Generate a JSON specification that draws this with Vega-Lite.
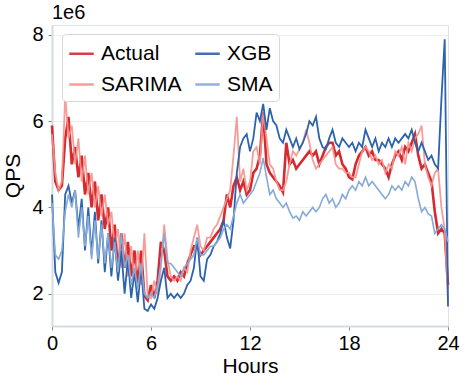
{
  "$schema": "https://vega.github.io/schema/vega-lite/v6.json",
  "width": 396,
  "height": 301,
  "autosize": {"type": "none"},
  "padding": {"left": 52, "top": 25, "right": 20, "bottom": 60},
  "background": "white",
  "config": {
    "font": "Liberation Sans",
    "view": {"stroke": "#dde2ea", "strokeWidth": 1},
    "axis": {
      "labelFont": "Liberation Sans",
      "titleFont": "Liberation Sans",
      "labelFontSize": 20,
      "titleFontSize": 21,
      "titleFontWeight": "normal",
      "labelColor": "black",
      "titleColor": "black",
      "domainColor": "#d5dbe4",
      "domainWidth": 2,
      "tickColor": "#888",
      "tickSize": 4,
      "gridColor": "#eeeeee",
      "gridWidth": 1
    }
  },
  "title": {
    "text": "1e6",
    "anchor": "start",
    "frame": "group",
    "fontSize": 20,
    "fontWeight": "normal",
    "font": "Liberation Sans",
    "color": "black",
    "offset": 2
  },
  "data": {
    "values": [
      {"h":0.0,"Actual":5.9,"SARIMA":5.7,"XGB":4.3,"SMA":4.1},
      {"h":0.2,"Actual":4.6,"SARIMA":4.8,"XGB":2.5,"SMA":2.9},
      {"h":0.4,"Actual":4.4,"SARIMA":4.4,"XGB":2.25,"SMA":2.8},
      {"h":0.6,"Actual":4.5,"SARIMA":4.6,"XGB":2.5,"SMA":3.0},
      {"h":0.8,"Actual":5.6,"SARIMA":6.6,"XGB":4.3,"SMA":3.9},
      {"h":1.0,"Actual":6.1,"SARIMA":5.6,"XGB":4.5,"SMA":4.3},
      {"h":1.2,"Actual":5.0,"SARIMA":5.9,"XGB":4.1,"SMA":4.0},
      {"h":1.4,"Actual":5.4,"SARIMA":5.0,"XGB":4.4,"SMA":4.4},
      {"h":1.6,"Actual":4.7,"SARIMA":5.6,"XGB":3.5,"SMA":3.3},
      {"h":1.8,"Actual":5.2,"SARIMA":4.6,"XGB":4.2,"SMA":4.0},
      {"h":2.0,"Actual":4.3,"SARIMA":5.2,"XGB":3.0,"SMA":3.1},
      {"h":2.2,"Actual":4.8,"SARIMA":4.3,"XGB":4.0,"SMA":3.8},
      {"h":2.4,"Actual":4.0,"SARIMA":4.8,"XGB":2.9,"SMA":2.8},
      {"h":2.6,"Actual":4.6,"SARIMA":4.0,"XGB":3.9,"SMA":3.7},
      {"h":2.8,"Actual":3.7,"SARIMA":4.5,"XGB":2.7,"SMA":2.8},
      {"h":3.0,"Actual":4.3,"SARIMA":3.8,"XGB":3.7,"SMA":3.6},
      {"h":3.2,"Actual":3.5,"SARIMA":4.3,"XGB":2.5,"SMA":2.7},
      {"h":3.4,"Actual":4.0,"SARIMA":3.6,"XGB":3.4,"SMA":3.4},
      {"h":3.6,"Actual":3.0,"SARIMA":3.9,"XGB":2.4,"SMA":2.6},
      {"h":3.8,"Actual":3.6,"SARIMA":3.1,"XGB":3.3,"SMA":3.2},
      {"h":4.0,"Actual":2.5,"SARIMA":3.5,"XGB":2.3,"SMA":2.5},
      {"h":4.2,"Actual":3.4,"SARIMA":2.6,"XGB":3.0,"SMA":3.4},
      {"h":4.4,"Actual":2.6,"SARIMA":3.4,"XGB":2.0,"SMA":2.6},
      {"h":4.6,"Actual":3.2,"SARIMA":2.4,"XGB":2.8,"SMA":2.9},
      {"h":4.8,"Actual":2.4,"SARIMA":3.1,"XGB":1.9,"SMA":2.2},
      {"h":5.0,"Actual":3.0,"SARIMA":2.3,"XGB":2.5,"SMA":2.6},
      {"h":5.2,"Actual":2.2,"SARIMA":3.0,"XGB":1.8,"SMA":2.1},
      {"h":5.4,"Actual":3.0,"SARIMA":2.2,"XGB":2.6,"SMA":2.7},
      {"h":5.6,"Actual":1.95,"SARIMA":3.4,"XGB":1.65,"SMA":2.0},
      {"h":5.8,"Actual":1.85,"SARIMA":1.95,"XGB":1.6,"SMA":1.9},
      {"h":6.0,"Actual":2.2,"SARIMA":1.9,"XGB":1.75,"SMA":2.0},
      {"h":6.2,"Actual":1.9,"SARIMA":2.3,"XGB":1.65,"SMA":1.9},
      {"h":6.4,"Actual":2.3,"SARIMA":2.0,"XGB":1.9,"SMA":2.2},
      {"h":6.6,"Actual":3.2,"SARIMA":2.6,"XGB":2.3,"SMA":2.7},
      {"h":6.8,"Actual":3.0,"SARIMA":3.6,"XGB":2.6,"SMA":3.4},
      {"h":7.0,"Actual":2.4,"SARIMA":2.8,"XGB":1.9,"SMA":2.7},
      {"h":7.2,"Actual":2.3,"SARIMA":2.4,"XGB":2.0,"SMA":2.7},
      {"h":7.4,"Actual":2.4,"SARIMA":2.3,"XGB":1.9,"SMA":2.6},
      {"h":7.6,"Actual":2.3,"SARIMA":2.4,"XGB":2.0,"SMA":2.5},
      {"h":7.8,"Actual":2.5,"SARIMA":2.3,"XGB":1.9,"SMA":2.4},
      {"h":8.0,"Actual":2.4,"SARIMA":2.6,"XGB":2.0,"SMA":2.6},
      {"h":8.2,"Actual":2.7,"SARIMA":2.5,"XGB":2.2,"SMA":2.7},
      {"h":8.4,"Actual":2.9,"SARIMA":3.0,"XGB":2.3,"SMA":2.8},
      {"h":8.6,"Actual":3.1,"SARIMA":3.3,"XGB":2.6,"SMA":2.9},
      {"h":8.8,"Actual":3.1,"SARIMA":3.6,"XGB":3.3,"SMA":3.3},
      {"h":9.0,"Actual":2.9,"SARIMA":3.1,"XGB":2.4,"SMA":2.9},
      {"h":9.2,"Actual":3.0,"SARIMA":3.0,"XGB":2.3,"SMA":2.9},
      {"h":9.4,"Actual":3.1,"SARIMA":3.3,"XGB":2.8,"SMA":3.0},
      {"h":9.6,"Actual":3.2,"SARIMA":3.3,"XGB":2.9,"SMA":3.1},
      {"h":9.8,"Actual":3.3,"SARIMA":3.5,"XGB":3.1,"SMA":3.1},
      {"h":10.0,"Actual":3.4,"SARIMA":3.6,"XGB":3.2,"SMA":3.2},
      {"h":10.2,"Actual":3.5,"SARIMA":3.8,"XGB":3.4,"SMA":3.3},
      {"h":10.4,"Actual":3.7,"SARIMA":4.0,"XGB":3.7,"SMA":3.5},
      {"h":10.6,"Actual":4.3,"SARIMA":4.2,"XGB":3.3,"SMA":3.6},
      {"h":10.8,"Actual":4.0,"SARIMA":4.4,"XGB":3.05,"SMA":3.5},
      {"h":11.0,"Actual":4.5,"SARIMA":5.2,"XGB":3.7,"SMA":3.8},
      {"h":11.2,"Actual":4.7,"SARIMA":6.1,"XGB":4.8,"SMA":4.1},
      {"h":11.4,"Actual":4.4,"SARIMA":4.6,"XGB":5.4,"SMA":4.3},
      {"h":11.6,"Actual":4.6,"SARIMA":4.9,"XGB":5.6,"SMA":4.1},
      {"h":11.8,"Actual":4.3,"SARIMA":4.4,"XGB":5.7,"SMA":4.2},
      {"h":12.0,"Actual":4.4,"SARIMA":4.6,"XGB":5.3,"SMA":4.3},
      {"h":12.2,"Actual":4.8,"SARIMA":5.3,"XGB":5.6,"SMA":4.4},
      {"h":12.4,"Actual":4.9,"SARIMA":5.4,"XGB":6.2,"SMA":4.6},
      {"h":12.6,"Actual":5.2,"SARIMA":5.0,"XGB":6.0,"SMA":4.8},
      {"h":12.8,"Actual":6.2,"SARIMA":6.2,"XGB":6.4,"SMA":5.15},
      {"h":13.0,"Actual":5.0,"SARIMA":5.6,"XGB":5.8,"SMA":4.7},
      {"h":13.2,"Actual":4.8,"SARIMA":5.0,"XGB":6.3,"SMA":4.3},
      {"h":13.4,"Actual":4.7,"SARIMA":4.9,"XGB":6.0,"SMA":4.4},
      {"h":13.6,"Actual":4.6,"SARIMA":4.6,"XGB":5.9,"SMA":4.2},
      {"h":13.8,"Actual":4.5,"SARIMA":4.4,"XGB":5.6,"SMA":4.1},
      {"h":14.0,"Actual":4.35,"SARIMA":4.4,"XGB":5.5,"SMA":4.0},
      {"h":14.2,"Actual":5.5,"SARIMA":4.6,"XGB":5.8,"SMA":4.1},
      {"h":14.4,"Actual":5.0,"SARIMA":5.0,"XGB":5.6,"SMA":3.9},
      {"h":14.6,"Actual":5.1,"SARIMA":5.3,"XGB":5.4,"SMA":3.75},
      {"h":14.8,"Actual":4.9,"SARIMA":5.2,"XGB":5.6,"SMA":3.8},
      {"h":15.0,"Actual":5.0,"SARIMA":5.35,"XGB":5.35,"SMA":3.7},
      {"h":15.2,"Actual":5.1,"SARIMA":5.5,"XGB":5.5,"SMA":3.9},
      {"h":15.4,"Actual":5.2,"SARIMA":5.8,"XGB":5.7,"SMA":3.8},
      {"h":15.6,"Actual":5.3,"SARIMA":5.5,"XGB":6.0,"SMA":3.9},
      {"h":15.8,"Actual":5.2,"SARIMA":5.1,"XGB":5.9,"SMA":4.0},
      {"h":16.0,"Actual":5.3,"SARIMA":4.9,"XGB":6.1,"SMA":3.9},
      {"h":16.2,"Actual":5.0,"SARIMA":5.0,"XGB":5.6,"SMA":4.0},
      {"h":16.4,"Actual":5.2,"SARIMA":5.1,"XGB":5.4,"SMA":4.2},
      {"h":16.6,"Actual":5.4,"SARIMA":5.2,"XGB":5.35,"SMA":4.3},
      {"h":16.8,"Actual":5.5,"SARIMA":5.3,"XGB":5.6,"SMA":4.1},
      {"h":17.0,"Actual":5.5,"SARIMA":5.4,"XGB":5.8,"SMA":4.2},
      {"h":17.2,"Actual":5.2,"SARIMA":5.0,"XGB":5.5,"SMA":4.0},
      {"h":17.4,"Actual":5.3,"SARIMA":4.9,"XGB":5.4,"SMA":4.1},
      {"h":17.6,"Actual":5.0,"SARIMA":4.9,"XGB":5.6,"SMA":4.3},
      {"h":17.8,"Actual":4.9,"SARIMA":4.8,"XGB":5.5,"SMA":4.2},
      {"h":18.0,"Actual":4.7,"SARIMA":4.8,"XGB":5.4,"SMA":4.4},
      {"h":18.2,"Actual":4.65,"SARIMA":4.7,"XGB":5.5,"SMA":4.5},
      {"h":18.4,"Actual":5.0,"SARIMA":4.7,"XGB":5.3,"SMA":4.4},
      {"h":18.6,"Actual":5.2,"SARIMA":5.0,"XGB":5.5,"SMA":4.6},
      {"h":18.8,"Actual":5.3,"SARIMA":5.3,"XGB":5.4,"SMA":4.5},
      {"h":19.0,"Actual":5.4,"SARIMA":5.4,"XGB":5.8,"SMA":4.7},
      {"h":19.2,"Actual":5.2,"SARIMA":5.3,"XGB":5.6,"SMA":4.5},
      {"h":19.4,"Actual":5.3,"SARIMA":5.1,"XGB":5.4,"SMA":4.6},
      {"h":19.6,"Actual":5.1,"SARIMA":5.2,"XGB":5.6,"SMA":4.5},
      {"h":19.8,"Actual":5.1,"SARIMA":5.0,"XGB":5.3,"SMA":4.4},
      {"h":20.0,"Actual":5.0,"SARIMA":5.1,"XGB":5.5,"SMA":4.3},
      {"h":20.2,"Actual":4.9,"SARIMA":4.8,"XGB":5.4,"SMA":4.2},
      {"h":20.4,"Actual":4.7,"SARIMA":5.0,"XGB":5.6,"SMA":4.3},
      {"h":20.6,"Actual":5.0,"SARIMA":4.9,"XGB":5.4,"SMA":4.5},
      {"h":20.8,"Actual":5.2,"SARIMA":5.3,"XGB":5.6,"SMA":4.4},
      {"h":21.0,"Actual":5.3,"SARIMA":5.2,"XGB":5.5,"SMA":4.5},
      {"h":21.2,"Actual":5.1,"SARIMA":5.4,"XGB":5.6,"SMA":4.4},
      {"h":21.4,"Actual":5.4,"SARIMA":5.0,"XGB":5.7,"SMA":4.6},
      {"h":21.6,"Actual":5.3,"SARIMA":5.5,"XGB":5.6,"SMA":4.5},
      {"h":21.8,"Actual":5.5,"SARIMA":5.3,"XGB":5.8,"SMA":4.7},
      {"h":22.0,"Actual":5.7,"SARIMA":5.6,"XGB":5.5,"SMA":4.6},
      {"h":22.2,"Actual":5.2,"SARIMA":5.7,"XGB":5.3,"SMA":4.2},
      {"h":22.4,"Actual":4.9,"SARIMA":5.9,"XGB":5.5,"SMA":3.9},
      {"h":22.6,"Actual":5.0,"SARIMA":5.0,"XGB":5.3,"SMA":4.0},
      {"h":22.8,"Actual":4.8,"SARIMA":4.7,"XGB":5.1,"SMA":3.85},
      {"h":23.0,"Actual":4.6,"SARIMA":4.5,"XGB":5.2,"SMA":3.8},
      {"h":23.2,"Actual":3.9,"SARIMA":4.8,"XGB":5.0,"SMA":3.4},
      {"h":23.4,"Actual":3.4,"SARIMA":4.9,"XGB":4.9,"SMA":3.5},
      {"h":23.6,"Actual":3.5,"SARIMA":4.0,"XGB":6.5,"SMA":3.6},
      {"h":23.8,"Actual":3.4,"SARIMA":3.5,"XGB":7.9,"SMA":3.5},
      {"h":24.0,"Actual":2.2,"SARIMA":1.8,"XGB":1.7,"SMA":3.2}
    ]
  },
  "transform": [
    {"fold": ["Actual", "SARIMA", "XGB", "SMA"], "as": ["model", "qps"]}
  ],
  "encoding": {
    "x": {
      "field": "h", "type": "quantitative",
      "scale": {"domain": [0, 24], "nice": false, "zero": false},
      "axis": {"values": [0, 6, 12, 18, 24], "title": "Hours", "grid": false, "labelPadding": 3, "titlePadding": 2, "labelFlush": false}
    },
    "y": {
      "field": "qps", "type": "quantitative",
      "scale": {"domain": [1.25, 8.23], "nice": false, "zero": false},
      "axis": {"values": [2, 4, 6, 8], "title": "QPS", "grid": true, "labelPadding": 5, "titlePadding": 8}
    },
    "color": {
      "field": "model", "type": "nominal",
      "scale": {
        "domain": ["Actual", "SARIMA", "XGB", "SMA"],
        "range": ["#d42a30", "#f5928d", "#2c63ad", "#86aad8"]
      },
      "legend": {
        "title": null,
        "orient": "none",
        "legendX": 10,
        "legendY": 9,
        "columns": 2,
        "columnPadding": 8,
        "rowPadding": 7,
        "padding": 6,
        "fillColor": "white",
        "strokeColor": "#d8d8d8",
        "cornerRadius": 4,
        "labelFontSize": 21,
        "labelFont": "Liberation Sans",
        "labelColor": "black",
        "symbolType": "stroke",
        "symbolStrokeWidth": 2.5,
        "symbolSize": 600,
        "labelOffset": 6
      }
    }
  },
  "layer": [
    {"transform": [{"filter": "datum.model === 'Actual'"}], "mark": {"type": "line", "strokeWidth": 2.6}},
    {"transform": [{"filter": "datum.model === 'SARIMA'"}], "mark": {"type": "line", "strokeWidth": 1.8, "opacity": 0.9}},
    {"transform": [{"filter": "datum.model === 'XGB'"}], "mark": {"type": "line", "strokeWidth": 1.8}},
    {"transform": [{"filter": "datum.model === 'SMA'"}], "mark": {"type": "line", "strokeWidth": 1.6}}
  ]
}
